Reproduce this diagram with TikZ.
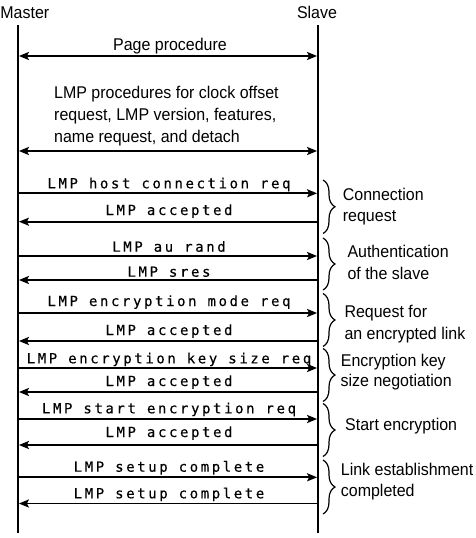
\documentclass[tikz,border=0pt]{standalone}
\usepackage{fontspec}
\setmainfont{Liberation Sans}[FakeStretch=0.94]
\newfontfamily\msgfont{DejaVu Sans Mono}[LetterSpace=18.5,FakeBold=0.3]
\usetikzlibrary{arrows.meta,decorations.pathreplacing}

\begin{document}
\begin{tikzpicture}[x=1pt,y=-1pt,
  tip/.tip={Stealth[length=10pt,width=8pt,inset=2pt]},
  lifeline/.style={line width=1.8pt},
  msg/.style={line width=1.8pt,-tip,shorten >=0.9pt},
  both/.style={line width=1.8pt,tip-tip,shorten >=0.9pt,shorten <=0.9pt},
  msgtext/.style={anchor=base,inner sep=0pt,font=\msgfont\fontsize{14}{16}\selectfont},
  sanstext/.style={anchor=base west,inner sep=0pt,font=\fontsize{17}{20}\selectfont},
  headtext/.style={anchor=base,inner sep=0pt,font=\fontsize{17}{20}\selectfont},
  groupbrace/.style={decorate,decoration={brace,amplitude=12pt},line width=1.2pt}
]
\useasboundingbox (0,0) rectangle (476,538);

% participants and lifelines
\node[headtext] (master) at (24.8,19) {Master};
\node[headtext] (slave) at (317,19) {Slave};
\coordinate (mtop) at (18,25);
\coordinate (mbot) at (18,533);
\coordinate (stop) at (318,25);
\coordinate (sbot) at (318,533);
\draw[lifeline] (mtop) -- (mbot);
\draw[lifeline] (stop) -- (sbot);

% page procedure
\coordinate (mp) at (18,56);
\coordinate (sp) at (318,56);
\node[headtext] (pagetxt) at (170,50) {Page procedure};
\draw[both] (mp) -- (sp);

% LMP procedures
\node[sanstext] (proc1) at (54,98.3) {LMP procedures for clock offset};
\node[sanstext] (proc2) at (54,120.3) {request, LMP version, features,};
\node[sanstext] (proc3) at (54,142.5) {name request, and detach};
\coordinate (mq) at (18,151);
\coordinate (sq) at (318,151);
\draw[both] (mq) -- (sq);

% message rows: index / arrow y / label baseline / label
\foreach \i/\ya/\yt/\lbl in {
  1/193.3/188.3/LMP host connection req,
  2/221.7/215/LMP accepted,
  3/256/251.7/LMP au rand,
  4/280/276.7/LMP sres,
  5/313/306/LMP encryption mode req,
  6/341/335/LMP accepted,
  7/368/363.3/LMP encryption key size req,
  8/392/386/LMP accepted,
  9/419/413.3/LMP start encryption req,
  10/445/437/LMP accepted,
  11/477.3/471.7/LMP setup complete,
  12/503.5/498.3/LMP setup complete}{
  \coordinate (m\i) at (18,\ya);
  \coordinate (s\i) at (318,\ya);
  \node[msgtext] (t\i) at (169,\yt) {\lbl};
}

% requests go from master to slave, answers back
\foreach \i in {1,3,5,7,9,11} \draw[msg] (m\i) -- (s\i);
\foreach \i in {2,4,6,8,10,12} \draw[msg] (s\i) -- (m\i);

% group braces
\foreach \j/\ya/\yb in {1/180/233.5,2/238/290,3/293.5/346.5,4/348.5/401.5,5/403.5/456.5,6/460/514}{
  \coordinate (ba\j) at (323,\ya);
  \coordinate (bb\j) at (323,\yb);
  \draw[groupbrace] (ba\j) -- (bb\j);
}

% group labels
\node[sanstext] (g1a) at (342.7,200.7) {Connection};
\node[sanstext] (g1b) at (342.7,221.7) {request};
\node[sanstext] (g2a) at (347.3,257.3) {Authentication};
\node[sanstext] (g2b) at (347.3,279.3) {of the slave};
\node[sanstext] (g3a) at (344.3,317.3) {Request for};
\node[sanstext] (g3b) at (344.3,339.3) {an encrypted link};
\node[sanstext] (g4a) at (340.7,366) {Encryption key};
\node[sanstext] (g4b) at (340.5,386) {size negotiation};
\node[sanstext] (g5a) at (345,430.7) {Start encryption};
\node[sanstext] (g6a) at (340.7,475) {Link establishment};
\node[sanstext] (g6b) at (340.7,496.7) {completed};
\end{tikzpicture}
\end{document}
